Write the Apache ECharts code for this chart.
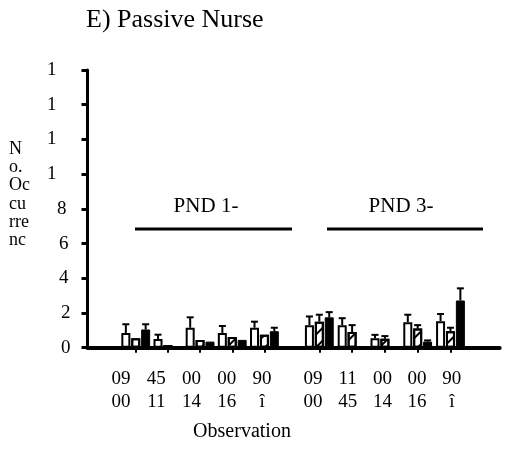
<!DOCTYPE html>
<html><head><meta charset="utf-8">
<script src="https://cdn.jsdelivr.net/npm/echarts@6/dist/echarts.min.js"></script>
<style>html,body{margin:0;padding:0;background:#fff}#c{width:506px;height:450px}</style>
</head><body><div id="c"></div>
<script>
// ---- data ----
const titleText = 'E) Passive Nurse';
const yTickLabels = ['0','2','4','6','8','1','1','1','1'];
const yName = ['N','o.','Oc','cu','rre','nc'];
const xName = 'Observation';
const groupNames = ['PND 1-','PND 3-'];
const catsPND1 = ['a1','a2','a3','a4','a5'];
const catsPND3 = ['b1','b2','b3','b4','b5'];
const labelsPND1 = [['09','00'],['45','11'],['00','14'],['00','16'],['90','î']];
const labelsPND3 = [['09','00'],['11','45'],['00','14'],['00','16'],['90','î']];
// open (white), hatched, solid (black) bars; upper error limits
const openPND1 = [0.85, 0.5, 1.15, 0.85, 1.15];
const openTopPND1 = [1.35, 0.75, 1.75, 1.25, 1.5];
const hatchPND1 = [0.55, 0.15, 0.45, 0.62, 0.75];
const hatchTopPND1 = [null, null, null, null, null];
const solidPND1 = [1.05, 0.05, 0.35, 0.45, 0.95];
const solidTopPND1 = [1.35, null, null, null, 1.15];
const openPND3 = [1.3, 1.3, 0.55, 1.47, 1.53];
const openTopPND3 = [1.8, 1.7, 0.74, 1.9, 1.94];
const hatchPND3 = [1.5, 0.9, 0.52, 1.1, 0.95];
const hatchTopPND3 = [1.9, 1.3, 0.67, 1.3, 1.15];
const solidPND3 = [1.75, 0.03, 0.02, 0.35, 2.72];
const solidTopPND3 = [2.05, null, null, 0.42, 3.42];

// ---- styles ----
const FONT = '"Liberation Serif","DejaVu Serif",serif';
const BAR_W = 9, BAR_GAP_PCT = 10;
const STEP = BAR_W * (1 + BAR_GAP_PCT / 100);
const TOP = 70, H = 277.7;

const chart = echarts.init(document.getElementById('c'), null, {renderer: 'canvas'});

const openStyle = {color: '#fff', borderColor: '#000', borderWidth: 2};
const hatchStyle = {color: '#fff', borderColor: '#000', borderWidth: 2,
  decal: {symbol: 'rect', symbolSize: 1, dashArrayX: [1, 0], dashArrayY: [2, 7], rotation: -Math.PI / 4, color: '#000'}};
const solidStyle = {color: '#000', borderColor: '#000', borderWidth: 1};

function padBlank(arr, before, after) {
  return [].concat(Array(before).fill('-'), arr, Array(after).fill('-'));
}
function errData(before, tops, vals, k) {
  const out = [];
  tops.forEach((t, i) => { if (t != null) out.push([i + before, k, vals[i], t]); });
  return out;
}
function errRender(params, api) {
  const cat = api.value(0), k = api.value(1), v = api.value(2), t = api.value(3);
  const p0 = api.coord([cat, v]);
  const p1 = api.coord([cat, t]);
  const x = p0[0] + (k - 1) * STEP;
  return {type: 'group', children: [
    {type: 'line', shape: {x1: x, y1: p0[1], x2: x, y2: p1[1]}, style: {stroke: '#000', lineWidth: 2}},
    {type: 'line', shape: {x1: x - 3.5, y1: p1[1], x2: x + 3.5, y2: p1[1]}, style: {stroke: '#000', lineWidth: 2}}
  ]};
}

const xA = [''].concat(catsPND1);
const xB = [''].concat(catsPND3, ['']);

const yPad = [0, 0, 2, 2, 4, 14, 14, 14, 14];
const rich = {};
yPad.forEach((p, i) => { rich['p' + i] = {fontFamily: FONT, fontSize: 19, color: '#000', padding: [0, p, 0, 0]}; });

const hiddenY = (g) => ({type: 'value', gridIndex: g, min: 0, max: 16, interval: 2, show: false});
const baseX = {
  type: 'category',
  axisLine: {show: true, lineStyle: {color: '#000', width: 4}},
  axisTick: {show: true, alignWithLabel: true, length: 5, lineStyle: {color: '#000', width: 2},
    interval: function (idx, val) { return val !== ''; }},
  axisLabel: {show: false},
  splitLine: {show: false}
};
const labelX = (g, data) => ({
  type: 'category', gridIndex: g, data: data.map(d => d.join('\n')),
  axisLine: {show: false}, axisTick: {show: false}, splitLine: {show: false},
  axisLabel: {show: true, interval: 0, margin: 20, fontFamily: FONT, fontSize: 19, lineHeight: 23, color: '#000'}
});

const option = {
  animation: false,
  backgroundColor: '#fff',
  title: {text: titleText, left: 86, top: 7, padding: 0, textStyle: {fontFamily: FONT, fontSize: 26, fontWeight: 'normal', color: '#000'}},
  grid: [
    {left: 87.5, top: TOP, width: 193, height: H},
    {left: 270.15, top: TOP, width: 229.5, height: H},
    {left: 103.4, top: TOP, width: 176.25, height: H},
    {left: 295.65, top: TOP, width: 173.5, height: H}
  ],
  xAxis: [
    Object.assign({}, baseX, {gridIndex: 0, data: xA}),
    Object.assign({}, baseX, {gridIndex: 1, data: xB}),
    labelX(2, labelsPND1),
    labelX(3, labelsPND3)
  ],
  yAxis: [
    {type: 'value', gridIndex: 0, min: 0, max: 16, interval: 2,
      axisLine: {show: true, lineStyle: {color: '#000', width: 3}},
      axisTick: {show: true, inside: false, length: 6, lineStyle: {color: '#000', width: 3}},
      splitLine: {show: false},
      axisLabel: {margin: 17, formatter: function (v) { const i = Math.round(v / 2); return '{p' + i + '|' + yTickLabels[i] + '}'; }, rich: rich}},
    hiddenY(1), hiddenY(2), hiddenY(3)
  ],
  series: [
    {type: 'bar', xAxisIndex: 0, yAxisIndex: 0, barWidth: BAR_W, barGap: BAR_GAP_PCT + '%', data: padBlank(openPND1, 1, 0), itemStyle: openStyle},
    {type: 'bar', xAxisIndex: 0, yAxisIndex: 0, barWidth: BAR_W, barGap: BAR_GAP_PCT + '%', data: padBlank(hatchPND1, 1, 0), itemStyle: hatchStyle},
    {type: 'bar', xAxisIndex: 0, yAxisIndex: 0, barWidth: BAR_W, barGap: BAR_GAP_PCT + '%', data: padBlank(solidPND1, 1, 0), itemStyle: solidStyle},
    {type: 'bar', xAxisIndex: 1, yAxisIndex: 1, barWidth: BAR_W, barGap: BAR_GAP_PCT + '%', data: padBlank(openPND3, 1, 1), itemStyle: openStyle},
    {type: 'bar', xAxisIndex: 1, yAxisIndex: 1, barWidth: BAR_W, barGap: BAR_GAP_PCT + '%', data: padBlank(hatchPND3, 1, 1), itemStyle: hatchStyle},
    {type: 'bar', xAxisIndex: 1, yAxisIndex: 1, barWidth: BAR_W, barGap: BAR_GAP_PCT + '%', data: padBlank(solidPND3, 1, 1), itemStyle: solidStyle},
    {type: 'custom', xAxisIndex: 0, yAxisIndex: 0, renderItem: errRender, encode: {x: 0, y: [2, 3]}, z: 3,
      data: [].concat(errData(1, openTopPND1, openPND1, 0), errData(1, hatchTopPND1, hatchPND1, 1), errData(1, solidTopPND1, solidPND1, 2))},
    {type: 'custom', xAxisIndex: 1, yAxisIndex: 1, renderItem: errRender, encode: {x: 0, y: [2, 3]}, z: 3,
      data: [].concat(errData(1, openTopPND3, openPND3, 0), errData(1, hatchTopPND3, hatchPND3, 1), errData(1, solidTopPND3, solidPND3, 2))}
  ],
  graphic: [
    {type: 'text', left: 9, top: 140, style: {text: yName.join('\n'), font: '18px ' + FONT, lineHeight: 18.3, fill: '#000'}},
    {type: 'text', x: 206, y: 206, style: {text: groupNames[0], font: '21px ' + FONT, fill: '#000', align: 'center', verticalAlign: 'middle'}},
    {type: 'text', x: 401, y: 206, style: {text: groupNames[1], font: '21px ' + FONT, fill: '#000', align: 'center', verticalAlign: 'middle'}},
    {type: 'line', shape: {x1: 135, y1: 229, x2: 292, y2: 229}, style: {stroke: '#000', lineWidth: 3}},
    {type: 'line', shape: {x1: 327, y1: 229, x2: 483, y2: 229}, style: {stroke: '#000', lineWidth: 3}},
    {type: 'text', x: 242, y: 432, style: {text: xName, font: '20px ' + FONT, fill: '#000', align: 'center', verticalAlign: 'middle'}}
  ]
};
chart.setOption(option);
</script></body></html>
